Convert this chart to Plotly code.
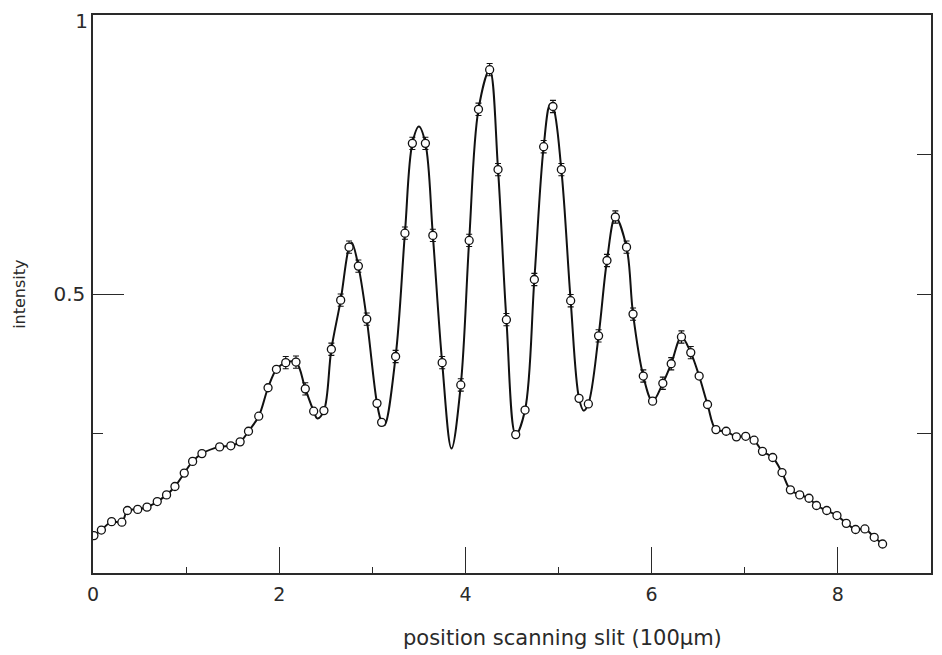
import plotly.graph_objects as go

# measured points (position in units of 100 um, intensity) and error flags
x_pts = [0.01, 0.09, 0.20, 0.31, 0.37, 0.48, 0.58, 0.69, 0.79, 0.88, 0.98, 1.07, 1.17,
         1.36, 1.48, 1.58, 1.67, 1.78, 1.88, 1.97, 2.07, 2.18, 2.28, 2.37, 2.48, 2.56,
         2.66, 2.75, 2.85, 2.94, 3.05, 3.10, 3.25, 3.35, 3.43, 3.57, 3.65, 3.75, 3.95,
         4.04, 4.14, 4.26, 4.35, 4.44, 4.54, 4.64, 4.74, 4.84, 4.94, 5.03, 5.13, 5.22,
         5.32, 5.43, 5.52, 5.61, 5.73, 5.80, 5.91, 6.01, 6.12, 6.21, 6.32, 6.42, 6.51,
         6.60, 6.69, 6.80, 6.91, 7.01, 7.10, 7.19, 7.30, 7.40, 7.49, 7.59, 7.69, 7.77,
         7.88, 7.99, 8.09, 8.19, 8.29, 8.39, 8.48]
y_pts = [0.067, 0.077, 0.092, 0.091, 0.112, 0.114, 0.118, 0.128, 0.140, 0.155, 0.179, 0.200, 0.214,
         0.226, 0.228, 0.235, 0.254, 0.281, 0.332, 0.365, 0.377, 0.378, 0.330, 0.290, 0.291, 0.401,
         0.489, 0.584, 0.550, 0.455, 0.304, 0.270, 0.388, 0.609, 0.770, 0.770, 0.605, 0.377, 0.337,
         0.596, 0.831, 0.902, 0.723, 0.454, 0.248, 0.292, 0.526, 0.764, 0.836, 0.723, 0.488, 0.313,
         0.303, 0.425, 0.560, 0.638, 0.584, 0.464, 0.353, 0.308, 0.340, 0.375, 0.423, 0.395, 0.353,
         0.302, 0.257, 0.254, 0.244, 0.245, 0.238, 0.218, 0.207, 0.180, 0.149, 0.140, 0.134, 0.121,
         0.112, 0.103, 0.089, 0.078, 0.079, 0.064, 0.052]
err_pts = [0, 0, 0, 0, 0, 0, 0, 0, 0, 0, 0, 0, 0,
           0, 0, 0, 0, 0, 0, 0, 0.011, 0.011, 0.011, 0, 0, 0.011,
           0.011, 0.011, 0.011, 0.011, 0, 0, 0.011, 0.011, 0.011, 0.011, 0.011, 0.011, 0.011,
           0.011, 0.011, 0.011, 0.011, 0.011, 0, 0, 0.011, 0.011, 0.011, 0.011, 0.011, 0,
           0, 0.011, 0.011, 0.011, 0.011, 0.011, 0.011, 0, 0.011, 0.011, 0.011, 0.011, 0,
           0, 0, 0, 0, 0, 0, 0, 0, 0, 0, 0, 0, 0,
           0, 0, 0, 0, 0, 0, 0]

# hand-drawn fitted curve: extra turning points
curve_extra_x = [2.41, 2.78, 3.13, 3.50, 3.85, 4.27, 4.55, 4.91, 5.27, 5.63, 6.02]
curve_extra_y = [0.277, 0.592, 0.265, 0.800, 0.223, 0.908, 0.236, 0.840, 0.291, 0.646, 0.304]

x_ticks = [0, 2, 4, 6, 8]
x_minor = [1, 3, 5, 7]
y_ticks = [0.5, 1]
y_ticktext = ["0.5", "1"]
y_minor_left = [0.25]
y_ticks_right = [0.25, 0.5, 0.75]

# build curve path (points + turning points), sorted by x
pairs = sorted(list(zip(x_pts, y_pts)) + list(zip(curve_extra_x, curve_extra_y)))
cx, cy = [], []
for px, py in pairs:
    if cx and abs(px - cx[-1]) < 0.025:
        continue
    cx.append(px)
    cy.append(py)

FONT = "DejaVu Sans"
INK = "#2a2a2a"
AX = "#2a2a2a"

fig = go.Figure()
fig.add_trace(go.Scatter(x=cx, y=cy, mode="lines",
                         line=dict(color="#111111", width=2, shape="spline", smoothing=1.0),
                         hoverinfo="skip", showlegend=False))

xe = [x for x, e in zip(x_pts, err_pts) if e > 0]
ye = [y for y, e in zip(y_pts, err_pts) if e > 0]
ee = [e for e in err_pts if e > 0]
xn = [x for x, e in zip(x_pts, err_pts) if e == 0]
yn = [y for y, e in zip(y_pts, err_pts) if e == 0]

marker = dict(symbol="circle", size=8, color="white", line=dict(color="#111111", width=1.3))
fig.add_trace(go.Scatter(x=xn, y=yn, mode="markers", marker=marker, showlegend=False,
                         hoverinfo="skip"))
fig.add_trace(go.Scatter(x=xe, y=ye, mode="markers", marker=marker, showlegend=False,
                         hoverinfo="skip",
                         error_y=dict(type="data", array=ee, visible=True, color="#111111",
                                      thickness=1.1, width=3)))
# invisible carriers so the extra tick axes are drawn
for xa, ya in [("x2", "y"), ("x", "y2"), ("x", "y3"), ("x", "y4")]:
    fig.add_trace(go.Scatter(x=cx, y=cy, mode="lines", xaxis=xa, yaxis=ya,
                             line=dict(width=0), opacity=0, hoverinfo="skip", showlegend=False))

common = dict(showgrid=False, zeroline=False, automargin=False, tickcolor=AX, tickwidth=1.4)
yfont = dict(size=20, family=FONT, color=INK)

# page body has an 8px default margin, so margins are offset accordingly
fig.update_layout(
    width=942, height=655,
    margin=dict(l=85, r=19, t=7, b=90),
    paper_bgcolor="white", plot_bgcolor="white",
    font=dict(family=FONT, color=INK),
    xaxis=dict(range=[0, 9], tickvals=x_ticks, ticks="inside", ticklen=26,
               showline=True, linecolor=AX, linewidth=1.5, mirror=True,
               tickfont=dict(size=19, family=FONT, color=INK),
               ticklabelstandoff=3, **common),
    xaxis2=dict(range=[0, 9], overlaying="x", anchor="y", side="bottom", tickvals=x_minor,
                ticks="inside", ticklen=6, showticklabels=False, showline=False, **common),
    yaxis=dict(range=[0, 1], tickvals=y_ticks[:1], ticktext=y_ticktext[:1], ticks="inside",
               ticklen=31, showline=True, linecolor=AX, linewidth=1.5, mirror=True,
               tickfont=yfont, ticklabelstandoff=2, **common),
    yaxis2=dict(range=[0, 1], overlaying="y", side="right", tickvals=y_ticks_right,
                ticks="inside", ticklen=14, showticklabels=False, showline=False, **common),
    yaxis3=dict(range=[0, 1], overlaying="y", side="left", tickvals=y_minor_left,
                ticks="inside", ticklen=10, showticklabels=False, showline=False, **common),
    yaxis4=dict(range=[0, 1], overlaying="y", side="left", tickvals=y_ticks[1:],
                ticktext=y_ticktext[1:], ticks="", showline=False, tickfont=yfont,
                ticklabelstandoff=4, ticklabelshift=6, ticklabeloverflow="allow", **common),
    annotations=[
        dict(text="position scanning slit (100\u03bcm)", xref="paper", yref="paper",
             x=0.56, y=-0.1165, xanchor="center", yanchor="middle", showarrow=False,
             font=dict(size=21, family=FONT, color=INK)),
        dict(text="intensity", xref="paper", yref="paper", x=-0.0885, y=0.5, xanchor="center",
             yanchor="middle", textangle=-90, showarrow=False,
             font=dict(size=16, family=FONT, color=INK)),
    ],
)

fig.write_html("out.html")
